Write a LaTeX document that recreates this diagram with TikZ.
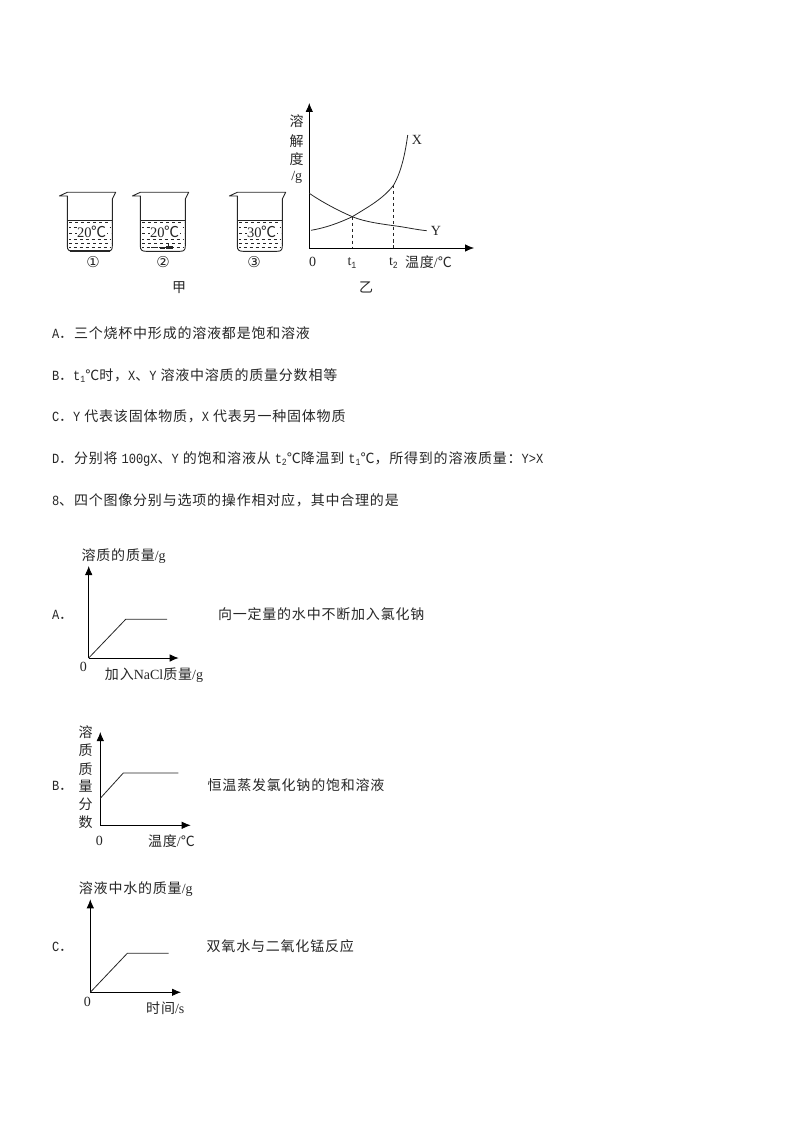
\documentclass[tikz,border=0pt]{standalone}
\usepackage{fontspec}
\usetikzlibrary{arrows.meta}
\setmainfont{Noto Sans CJK SC}[LetterSpace=5.7]
\newfontfamily\plainzh{Noto Sans CJK SC}
\newfontfamily\lat{Liberation Mono}[FakeStretch=.86]
\newfontfamily\ser{Liberation Serif}
\newfontfamily\sym{DejaVu Sans}
\newcommand{\la}[1]{{\lat\fontsize{14}{14}\selectfont #1}}
\newcommand{\lb}[1]{{\ser\fontsize{14}{16}\selectfont #1}}
\newcommand{\lsub}[1]{\raisebox{-2.5pt}{\lat\fontsize{9.5}{9}\selectfont #1}}
\newcommand{\degc}[1]{{\plainzh\fontsize{#1}{16}\selectfont ℃}}
\tikzset{
  x=1pt,y=-1pt,
  every node/.style={inner sep=0pt,outer sep=0pt,font=\fontsize{14}{16}\selectfont,text=black!85},
  qline/.style={anchor=west},
  fig/.style={anchor=center},
  axisline/.style={line width=.8pt,black,-{Latex[length=9pt,width=7.5pt]}},
  curveline/.style={line width=.8pt,black!85},
  guideline/.style={line width=.7pt,black!85,dash pattern=on 3.5pt off 2.5pt},
  beakerline/.style={line width=.9pt,black!85},
  waterline/.style={line width=.6pt,black!85,dash pattern=on 3.4pt off 2.6pt},
  templabel/.style={fill=white,inner xsep=.5pt,inner ysep=0pt,anchor=center},
}
\newcommand{\beaker}[3]{%
  \begin{scope}[shift={(#1,0)}]
    \draw[beakerline,line join=round] (59.3,196) -- (67.3,192.3) -- (115.7,192.3) -- (112.3,199) -- (112.3,246)
      .. controls (112.3,250) and (111,251.3) .. (107,251.3) -- (73,251.3)
      .. controls (69,251.3) and (67.3,250) .. (67.3,246) -- (67.3,196) -- cycle;
    \draw[line width=.7pt,black!85] (67.3,220) -- (112.3,220);
    \foreach \yy/\ss in {222.5/0,227.5/1.5,233/0,239/1.5,243.5/0,247.5/1.5}
      \draw[waterline,dash phase=\ss pt] (69,\yy) -- (111,\yy);
    \node[templabel] (#3) at (91.5,232) {\ser\fontsize{14.5}{16}\selectfont #2};
  \end{scope}
}
\begin{document}
\begin{tikzpicture}
\useasboundingbox (0,0) rectangle (794,1123);
% beakers
\beaker{0}{20\kern-.5pt\degc{15}}{tempa}
\beaker{73}{20\kern-.5pt\degc{15}}{tempb}
\beaker{170}{30\kern-.5pt\degc{15}}{tempc}
\fill[black!85] (69.5,250) rectangle (110,251.8);
\fill[black!85] (151,246.5) rectangle (158,248.3);
\fill[black!85] (160,247) rectangle (165,248.6);
\fill[black!85] (166,245.5) rectangle (173,248.6);
\draw[line width=.7pt,black!85] (168,243) -- (168,247);
\node[fig] (c1) at (93,262) {\sym\fontsize{15}{16}\selectfont ①};
\node[fig] (c2) at (163,262) {\sym\fontsize{15}{16}\selectfont ②};
\node[fig] (c3) at (254,262) {\sym\fontsize{15}{16}\selectfont ③};
\node[fig] (jia) at (179,288) {甲};
% chart yi
\coordinate (o) at (309.3,248);
\coordinate (ox) at (474,248);
\coordinate (oy) at (309.3,103);
\draw[axisline] (o) -- (ox);
\draw[axisline] (o) -- (oy);
\coordinate (p1) at (352.3,216.7);
\coordinate (p2) at (393.7,185);
\coordinate (t1) at (352.3,248);
\coordinate (t2) at (393.7,248);
\draw[curveline] (311,230.3) .. controls (325,228) and (339,223) .. (p1)
   .. controls (368,207) and (383,199) .. (p2)
   .. controls (401,172) and (405,155) .. (407.7,135);
\draw[curveline] (309.3,193.3) .. controls (322,202) and (337,210) .. (p1)
   .. controls (365,222) and (382,224) .. (393.7,225.7) .. controls (405,227) and (415,229.5) .. (426.7,230.7);
\draw[guideline] (p1) -- (t1);
\draw[guideline] (p2) -- (t2);
\node[fig] (lx) at (417,140) {\lb{X}};
\node[fig] (ly) at (436,231) {\lb{Y}};
\node[fig] (s1) at (296.7,120.7) {溶};
\node[fig] (s2) at (296.7,141) {解};
\node[fig] (s3) at (296.7,159) {度};
\node[fig] (s4) at (296.7,177) {\lb{/g}};
\node[fig] (z0) at (312.7,262) {\lb{0}};
\node[fig] (lt1) at (352,263) {\lb{t\lsub{1}}};
\node[fig] (lt2) at (393.5,263) {\lb{t\lsub{2}}};
\node[fig] (wd) at (428.5,262) {温度\lb{/}\degc{14}};
\node[fig] (yi) at (366,287) {乙};
% questions
\node[qline] (qa) at (52,333) {\la{A}．三个烧杯中形成的溶液都是饱和溶液};
\node[qline] (qb) at (52,375.5) {\la{B}．\la{t}\lsub{1}\degc{14}时，\la{X}、\la{Y} 溶液中溶质的质量分数相等};
\node[qline] (qc) at (52,416.7) {\la{C}．\la{Y} 代表该固体物质，\la{X} 代表另一种固体物质};
\node[qline] (qd) at (52,459) {\la{D}．分别将 \la{100gX}、\la{Y} 的饱和溶液从 \la{t}\lsub{2}\degc{14}降温到 \la{t}\lsub{1}\degc{14}，所得到的溶液质量：\la{Y>X}};
\node[qline] (q8) at (52,500) {\la{8}、四个图像分别与选项的操作相对应，其中合理的是};
% graph A
\coordinate (ao) at (88.7,658);
\coordinate (ax) at (178.7,658);
\coordinate (ay) at (88.7,566);
\coordinate (ak) at (125.7,619.3);
\coordinate (ae) at (167,619.3);
\draw[axisline] (ao) -- (ax);
\draw[axisline] (ao) -- (ay);
\draw[curveline] (ao) -- (ak) -- (ae);
\node[fig] (aty) at (123.7,556.5) {溶质的质量\lb{/g}};
\node[fig] (a0) at (83.3,667) {\lb{0}};
\node[fig] (atx) at (154,675.5) {加入\lb{NaCl}质量\lb{/g}};
\node[qline] (al) at (52,615) {\la{A}．};
\node[qline] (at) at (218,614) {向一定量的水中不断加入氯化钠};
% graph B
\coordinate (bo) at (100.3,825.3);
\coordinate (bx) at (190.7,825.3);
\coordinate (by) at (100.3,732);
\coordinate (bs) at (100.3,798.3);
\coordinate (bk) at (123.3,773);
\coordinate (be) at (178.3,773);
\draw[axisline] (bo) -- (bx);
\draw[axisline] (bo) -- (by);
\draw[curveline] (bs) -- (bk) -- (be);
\node[fig] (by1) at (85.7,731.7) {溶};
\node[fig] (by2) at (85.7,750) {质};
\node[fig] (by3) at (85.7,768.7) {质};
\node[fig] (by4) at (85.7,786) {量};
\node[fig] (by5) at (85.7,804.3) {分};
\node[fig] (by6) at (85.7,822.3) {数};
\node[fig] (b0) at (99.3,841.3) {\lb{0}};
\node[fig] (btx) at (171.5,841) {温度\lb{/}\degc{14}};
\node[qline] (bl) at (52,786) {\la{B}．};
\node[qline] (bt) at (207.7,785) {恒温蒸发氯化钠的饱和溶液};
% graph C
\coordinate (co) at (90.3,992.3);
\coordinate (cx) at (181,992.3);
\coordinate (cy) at (90.3,899.3);
\coordinate (ck) at (127.3,953.3);
\coordinate (ce) at (168.7,953.3);
\draw[axisline] (co) -- (cx);
\draw[axisline] (co) -- (cy);
\draw[curveline] (co) -- (ck) -- (ce);
\node[fig] (cty) at (135.8,889) {溶液中水的质量\lb{/g}};
\node[fig] (c0) at (87.3,1002) {\lb{0}};
\node[fig] (ctx) at (165.3,1008) {时间\lb{/s}};
\node[qline] (cl) at (52,947.3) {\la{C}．};
\node[qline] (ct) at (206.7,946.5) {双氧水与二氧化锰反应};
\end{tikzpicture}
\end{document}
